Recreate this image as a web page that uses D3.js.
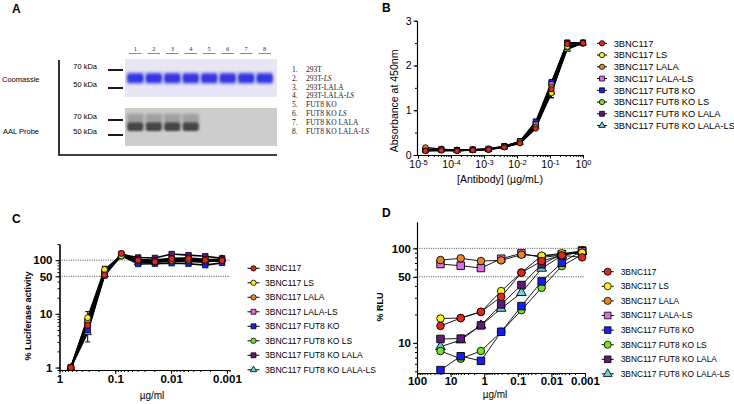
<!DOCTYPE html>
<html>
<head>
<meta charset="utf-8">
<title>3BNC117 Fc variants</title>
<script src="https://d3js.org/d3.v7.min.js"></script>
<style>
  body { margin: 0; background: #fff; }
  svg { font-family: "Liberation Sans", Arial, sans-serif; }
</style>
</head>
<body>
<div id="figure"></div>
<script>
// ---------------- data ----------------
let seriesNames = ['3BNC117', '3BNC117 LS', '3BNC117 LALA', '3BNC117 LALA-LS',
    '3BNC117 FUT8 KO', '3BNC117 FUT8 KO LS', '3BNC117 FUT8 KO LALA', '3BNC117 FUT8 KO LALA-LS'];

// panel A (gel)
let laneLabels = ['1', '2', '3', '4', '5', '6', '7', '8'];
let laneSamples = ['293T', '293T-LS', '293T-LALA', '293T-LALA-LS',
    'FUT8 KO', 'FUT8 KO LS', 'FUT8 KO LALA', 'FUT8 KO LALA-LS'];
let markerKDa = [70, 50];
let bandKDa = 59;
let coomassieSignal = [1, 1, 1, 1, 1, 1, 1, 1];
let aalSignal = [1, 1, 1, 1, 0, 0, 0, 0];

// panel B (ELISA)
let bConc = [1.69e-5, 5.08e-5, 1.52e-4, 4.57e-4, 1.37e-3, 4.12e-3, 1.23e-2, 3.70e-2, 0.111, 0.333, 1];
let bAbs = [
    [0.09, 0.10, 0.09, 0.11, 0.12, 0.17, 0.26, 0.59, 1.47, 2.48, 2.50],
    [0.10, 0.11, 0.10, 0.11, 0.13, 0.18, 0.28, 0.62, 1.38, 2.42, 2.50],
    [0.17, 0.13, 0.10, 0.11, 0.12, 0.18, 0.27, 0.63, 1.52, 2.47, 2.49],
    [0.12, 0.12, 0.11, 0.12, 0.14, 0.19, 0.30, 0.68, 1.58, 2.50, 2.51],
    [0.10, 0.11, 0.11, 0.12, 0.13, 0.19, 0.31, 0.75, 1.63, 2.51, 2.50],
    [0.11, 0.12, 0.10, 0.11, 0.12, 0.18, 0.27, 0.62, 1.42, 2.40, 2.49],
    [0.13, 0.13, 0.11, 0.12, 0.13, 0.20, 0.30, 0.70, 1.60, 2.51, 2.51],
    [0.11, 0.12, 0.10, 0.11, 0.12, 0.18, 0.28, 0.64, 1.40, 2.36, 2.50]
];
let bErr = [[1, 8, 0.10], [7, 8, 0.12], [4, 8, 0.05]];   // [series, point, sd]
let bTicksX = [1e-5, 1e-4, 1e-3, 1e-2, 1e-1, 1];
let bTicksY = [0, 1, 2, 3];

// panel C (luciferase)
let cConc = [0.625, 0.3125, 0.156, 0.078, 0.039, 0.0195, 0.00977, 0.00488, 0.00244, 0.00122];
let cLuc = [
    [1, 6.1, 53, 133, 100, 93, 106, 107, 100, 98],
    [1, 8.5, 67, 120, 98, 96, 100, 102, 98, 100],
    [1, 7.5, 58, 125, 97, 95, 100, 100, 96, 99],
    [1, 7.0, 56, 128, 103, 100, 108, 110, 104, 102],
    [1, 5.0, 52, 122, 85, 86, 88, 86, 81, 89],
    [1, 7.8, 60, 118, 95, 94, 97, 98, 95, 97],
    [1, 6.5, 55, 128, 112, 110, 130, 124, 118, 108],
    [1, 4.5, 54, 124, 90, 92, 96, 95, 92, 105]
];
let cErr = [[0, 3, 14], [1, 1, 2.5], [1, 2, 10], [7, 1, 1.5], [7, 9, 12]];
let cTicksX = [1, 0.1, 0.01, 0.001];
let cTicksY = [1, 10, 50, 100];
let cRefLines = [100, 50];

// panel D (% RLU)
let dConc = [20, 5, 1.25, 0.3125, 0.078, 0.0195, 0.00488, 0.00122];
let dRlu = [
    [15.1, 18.3, 21.3, 30.7, 55.2, 73.4, 84.3, 80.3],
    [18.1, 18.3, 21.3, 35.3, 55.5, 83.6, 88.5, 90],
    [75.2, 78.4, 73.4, 74.6, 85.7, 82.9, 86.4, 90],
    [68.2, 65.5, 61.9, 77.7, 88.5, 80, 85, 93],
    [5.15, 7.22, 6.45, 13.1, 24.5, 44.7, 70.5, 94.5],
    [8.2, 6.8, 8.2, 13.1, 22.2, 38.3, 65.0, 86],
    [11.0, 11.1, 15.3, 25.5, 40.9, 67.7, 87, 94.5],
    [9.1, 10.7, 15.3, 23.1, 33.9, 61.3, 84, 92]
];
let dTicksX = [100, 10, 1, 0.1, 0.01, 0.001];
let dTicksY = [10, 50, 100];
let dRefLines = [100, 50];

// ---------------- styles ----------------
let seriesColors = ['#e3261c', '#f7f21a', '#e5862a', '#df6ee3', '#1c1cf2', '#72e22a', '#5d1a78', '#69d4dc'];
let seriesShapes = ['circle', 'circle', 'circle', 'square', 'square', 'circle', 'square', 'triangle'];
let symbolTypes = { circle: d3.symbolCircle, square: d3.symbolSquare, triangle: d3.symbolTriangle };


let svg = d3.select('#figure')
    .append('svg')
        .attr('width', 734)
        .attr('height', 404);

let defs = svg.append('defs');
defs.append('filter').attr('id', 'blur').attr('x', '-20%').attr('y', '-50%').attr('width', '140%').attr('height', '200%')
    .append('feGaussianBlur').attr('stdDeviation', 0.8);
defs.append('filter').attr('id', 'blur2').attr('x', '-20%').attr('y', '-50%').attr('width', '140%').attr('height', '200%')
    .append('feGaussianBlur').attr('stdDeviation', 1.6);

// panel letters
[['A', 12, 13], ['B', 382, 12], ['C', 12, 223], ['D', 382, 217]].forEach((p) => {
    svg.append('text')
        .attr('x', p[1]).attr('y', p[2])
        .attr('font-size', 12).attr('font-weight', 'bold')
        .text(p[0]);
});


// ================= panel A =================
let gA = svg.append('g').attr('id', 'panelA');
let lane = d3.scaleBand().domain(laneLabels).range([127, 273]).paddingInner(0.1);
let yCoom = d3.scaleLog().domain([70, 50]).range([69, 87]);
let yAal = d3.scaleLog().domain([70, 50]).range([119, 134]);

gA.append('rect').attr('x', 125).attr('y', 59).attr('width', 152).attr('height', 38).attr('fill', '#e8e6f4');
gA.append('rect').attr('x', 125).attr('y', 108).attr('width', 152).attr('height', 38).attr('fill', '#cdcdcd');

// coomassie bands
let coomG = gA.append('g');
coomG.append('g').attr('filter', 'url(#blur2)').selectAll('rect')
    .data(coomassieSignal).enter().append('rect')
        .attr('x', (d, i) => lane(laneLabels[i]))
        .attr('y', yCoom(bandKDa) - 6)
        .attr('width', lane.bandwidth())
        .attr('height', 12)
        .attr('fill', '#8a8ae8')
        .attr('opacity', (d) => d);
coomG.append('g').attr('filter', 'url(#blur)').selectAll('rect')
    .data(coomassieSignal).enter().append('rect')
        .attr('x', (d, i) => lane(laneLabels[i]) + 0.5)
        .attr('y', yCoom(bandKDa) - 4)
        .attr('width', lane.bandwidth() - 1)
        .attr('height', 8)
        .attr('rx', 2.5)
        .attr('fill', '#3434e4')
        .attr('opacity', (d) => d);

// AAL bands
let aalG = gA.append('g');
aalG.append('g').attr('filter', 'url(#blur2)').selectAll('rect')
    .data(aalSignal).enter().append('rect')
        .attr('x', (d, i) => lane(laneLabels[i]))
        .attr('y', yAal(bandKDa) - 13)
        .attr('width', lane.bandwidth())
        .attr('height', 16)
        .attr('fill', '#8c8c8c')
        .attr('opacity', (d) => d * 0.7);
aalG.append('g').attr('filter', 'url(#blur)').selectAll('rect')
    .data(aalSignal).enter().append('rect')
        .attr('x', (d, i) => lane(laneLabels[i]) + 0.5)
        .attr('y', yAal(bandKDa) - 4)
        .attr('width', lane.bandwidth() - 1)
        .attr('height', 8.5)
        .attr('rx', 2)
        .attr('fill', '#454545')
        .attr('opacity', (d) => d);

// lane numbers
gA.selectAll('.laneNum').data(laneLabels).enter().append('text')
    .attr('class', 'laneNum')
    .attr('x', (d) => lane(d) + lane.bandwidth() / 2)
    .attr('y', 51)
    .attr('text-anchor', 'middle')
    .attr('font-family', '"Liberation Serif", serif')
    .attr('font-size', 6.5)
    .attr('fill', '#333')
    .text((d) => d);
gA.selectAll('.laneLine').data(laneLabels).enter().append('line')
    .attr('x1', (d) => lane(d) + 2).attr('x2', (d) => lane(d) + lane.bandwidth() - 2)
    .attr('y1', 53.5).attr('y2', 53.5)
    .attr('stroke', '#555').attr('stroke-width', 0.7);

// size markers
[yCoom, yAal].forEach((ys) => {
    gA.selectAll(null).data(markerKDa).enter().append('line')
        .attr('x1', 108).attr('x2', 123)
        .attr('y1', (d) => ys(d) + 1).attr('y2', (d) => ys(d) + 1)
        .attr('stroke', '#000').attr('stroke-width', 1.8);
    gA.selectAll(null).data(markerKDa).enter().append('text')
        .attr('x', 97).attr('y', (d) => ys(d) + 1)
        .attr('dy', '-0.1em')
        .attr('text-anchor', 'end')
        .attr('font-size', 7.5)
        .text((d) => d + ' kDa');
});

gA.append('text').attr('x', 2).attr('y', 82).attr('font-size', 7.5).text('Coomassie');
gA.append('text').attr('x', 3).attr('y', 134).attr('font-size', 7.5).text('AAL Probe');

// frame
gA.append('path')
    .attr('d', 'M59,60V155H277')
    .attr('fill', 'none').attr('stroke', '#000').attr('stroke-width', 1.6);

// sample key
let keyG = gA.append('g')
    .attr('font-family', '"Liberation Serif", serif')
    .attr('font-size', 7.5)
    .attr('fill', '#1a1a1a');
laneSamples.forEach((s, i) => {
    let yy = 72 + i * 8.8;
    keyG.append('text').attr('x', 292).attr('y', yy).attr('fill', '#1a1a1a').text(laneLabels[i] + '.');
    let t = keyG.append('text').attr('x', 306).attr('y', yy).attr('fill', '#1a1a1a');
    if (s.endsWith('LS')) {
        t.append('tspan').text(s.slice(0, -2));
        t.append('tspan').attr('font-style', 'italic').text('LS');
    } else {
        t.text(s);
    }
});


// ================= shared helpers =================
function drawSeries(g, x, y, conc, vals, opt) {
    let line = d3.line()
        .x((d, i) => x(conc[i]))
        .y((d) => y(d));

    g.append('g').selectAll('path')
        .data(vals).enter().append('path')
            .attr('d', (d) => line(d))
            .attr('fill', 'none')
            .attr('stroke', '#000')
            .attr('stroke-width', opt.lw);

    // error bars
    let eg = g.append('g').attr('stroke', '#000').attr('stroke-width', 1);
    (opt.err || []).forEach((e) => {
        let v = vals[e[0]][e[1]];
        let cx = x(conc[e[1]]);
        let lo = Math.max(v - e[2], y.domain()[0]);
        let hi = v + e[2];
        eg.append('line').attr('x1', cx).attr('x2', cx).attr('y1', y(lo)).attr('y2', y(hi));
        eg.append('line').attr('x1', cx - 2.5).attr('x2', cx + 2.5).attr('y1', y(lo)).attr('y2', y(lo));
        eg.append('line').attr('x1', cx - 2.5).attr('x2', cx + 2.5).attr('y1', y(hi)).attr('y2', y(hi));
    });

    // markers, first series drawn last so it sits on top
    d3.range(vals.length).reverse().forEach((s) => {
        g.append('g').selectAll('path')
            .data(vals[s]).enter().append('path')
                .attr('transform', (d, i) => translate(x(conc[i]), y(d)))
                .attr('d', d3.symbol().type(symbolTypes[seriesShapes[s]]).size(opt.size[seriesShapes[s]]))
                .attr('fill', seriesColors[s])
                .attr('stroke', '#000')
                .attr('stroke-width', opt.sw);
    });
}

function drawLegend(g, mx, y0, dy, opt) {
    seriesNames.forEach((name, i) => {
        let yy = y0 + i * dy;
        g.append('line')
            .attr('x1', mx - opt.half).attr('x2', mx + opt.half)
            .attr('y1', yy).attr('y2', yy)
            .attr('stroke', '#000').attr('stroke-width', 1);
        g.append('path')
            .attr('transform', translate(mx, yy))
            .attr('d', d3.symbol().type(symbolTypes[seriesShapes[i]]).size(opt.size[seriesShapes[i]]))
            .attr('fill', seriesColors[i])
            .attr('stroke', '#000')
            .attr('stroke-width', 0.8);
        g.append('text')
            .attr('x', mx + opt.tx).attr('y', yy)
            .attr('dy', '0.35em')
            .attr('font-size', opt.fs)
            .text(name);
    });
}

function styleAxis(sel, fs, weight) {
    sel.attr('font-size', fs)
        .attr('font-family', '"Liberation Sans", Arial, sans-serif')
        .attr('font-weight', weight);
    sel.selectAll('path, line').attr('stroke', '#000');
    sel.select('.domain').attr('stroke-width', 1.1);
    sel.selectAll('text').attr('fill', '#000');
}


// ================= panel B =================
let gB = svg.append('g').attr('id', 'panelB');
let xB = d3.scaleLog().domain([1e-5, 1]).range([418, 583]);
let yB = d3.scaleLinear().domain([0, 3]).range([155, 20.7]);

gB.append('g')
    .attr('transform', translate(0, 155))
    .call(d3.axisBottom(xB).tickValues(xB.ticks()).tickFormat('').tickSize(2).tickSizeOuter(0))
    .call(styleAxis, 10.5, 'normal');
let bxAxis = gB.append('g')
    .attr('transform', translate(0, 155))
    .call(d3.axisBottom(xB).tickValues(bTicksX).tickFormat('').tickSize(3.5).tickPadding(2).tickSizeOuter(0))
    .call(styleAxis, 10.5, 'normal');
bxAxis.select('.domain').attr('d', 'M417,0.5H583');
bxAxis.selectAll('.tick text').each(function (d) {
    let t = d3.select(this);
    t.append('tspan').text('10');
    t.append('tspan').attr('dy', '-0.45em').attr('font-size', 7.5).text(Math.round(Math.log10(d)));
});
gB.append('g')
    .attr('transform', translate(417, 0))
    .call(d3.axisLeft(yB).tickValues(yB.ticks(6)).tickFormat('').tickSize(2).tickSizeOuter(0))
    .call(styleAxis, 10.5, 'normal');
gB.append('g')
    .attr('transform', translate(417, 0))
    .call(d3.axisLeft(yB).tickValues(bTicksY).tickFormat(d3.format('d')).tickSize(3.5).tickPadding(2).tickSizeOuter(0))
    .call(styleAxis, 10.5, 'normal');

drawSeries(gB.append('g'), xB, yB, bConc, bAbs, {
    lw: 1.3, sw: 0.8, err: bErr,
    size: { circle: 22, square: 26, triangle: 20 }
});

gB.append('text')
    .attr('transform', translate(398, 101) + ' rotate(-90)')
    .attr('text-anchor', 'middle')
    .attr('font-size', 10.5)
    .text('Absorbance at 450nm');
gB.append('text')
    .attr('x', 500).attr('y', 183)
    .attr('text-anchor', 'middle')
    .attr('font-size', 10.5)
    .text('[Antibody] (µg/mL)');

drawLegend(gB.append('g'), 602, 43.3, 11.75, {
    half: 5, tx: 11.7, fs: 9.3,
    size: { circle: 22, square: 24, triangle: 18 }
});


// ================= panel C =================
let gC = svg.append('g').attr('id', 'panelC');
let xC = d3.scaleLog().domain([1, 0.00088]).range([59.5, 230]);
let yC = d3.scaleLog().domain([0.9, 200]).range([370, 244]);

gC.selectAll('.ref').data(cRefLines).enter().append('line')
    .attr('x1', 59.5).attr('x2', 230)
    .attr('y1', (d) => yC(d)).attr('y2', (d) => yC(d))
    .attr('stroke', '#222').attr('stroke-width', 0.8)
    .attr('stroke-dasharray', '1,1.3');

gC.append('g')
    .attr('transform', translate(0, 370))
    .call(d3.axisBottom(xC).tickValues(xC.ticks()).tickFormat('').tickSize(2).tickSizeOuter(0))
    .call(styleAxis, 11.5, 'bold');
gC.append('g')
    .attr('transform', translate(0, 370))
    .call(d3.axisBottom(xC).tickValues(cTicksX).tickFormat((d) => String(d)).tickSize(4).tickPadding(1).tickSizeOuter(0))
    .call(styleAxis, 11.5, 'bold');
gC.append('g')
    .attr('transform', translate(59.5, 0))
    .call(d3.axisLeft(yC).tickValues(yC.ticks()).tickFormat('').tickSize(2).tickSizeOuter(0))
    .call(styleAxis, 11.5, 'bold');
gC.append('g')
    .attr('transform', translate(59.5, 0))
    .call(d3.axisLeft(yC).tickValues(cTicksY).tickFormat((d) => String(d)).tickSize(4).tickPadding(3).tickSizeOuter(0))
    .call(styleAxis, 11.5, 'bold');

drawSeries(gC.append('g'), xC, yC, cConc, cLuc, {
    lw: 1.6, sw: 0.8, err: cErr,
    size: { circle: 28, square: 30, triangle: 24 }
});

gC.append('text')
    .attr('transform', translate(31, 316) + ' rotate(-90)')
    .attr('text-anchor', 'middle')
    .attr('font-size', 9).attr('font-weight', 'bold')
    .text('% Luciferase activity');
gC.append('text')
    .attr('x', 152).attr('y', 399)
    .attr('text-anchor', 'middle')
    .attr('font-size', 10)
    .text('µg/ml');

drawLegend(gC.append('g'), 253.5, 268.3, 14.5, {
    half: 6, tx: 11.5, fs: 8.5,
    size: { circle: 22, square: 24, triangle: 18 }
});


// ================= panel D =================
let gD = svg.append('g').attr('id', 'panelD');
let xD = d3.scaleLog().domain([100, 0.001]).range([417, 585]);
let yD = d3.scaleLog().domain([4.8, 190]).range([373, 222]);

gD.selectAll('.ref').data(dRefLines).enter().append('line')
    .attr('x1', 417).attr('x2', 585)
    .attr('y1', (d) => yD(d)).attr('y2', (d) => yD(d))
    .attr('stroke', '#222').attr('stroke-width', 0.8)
    .attr('stroke-dasharray', '1,1.3');

gD.append('g')
    .attr('transform', translate(0, 373))
    .call(d3.axisBottom(xD).tickValues(xD.ticks()).tickFormat('').tickSize(2).tickSizeOuter(0))
    .call(styleAxis, 11.5, 'bold');
gD.append('g')
    .attr('transform', translate(0, 373))
    .call(d3.axisBottom(xD).tickValues(dTicksX).tickFormat((d) => String(d)).tickSize(4).tickPadding(0).tickSizeOuter(0))
    .call(styleAxis, 11.5, 'bold');
gD.append('g')
    .attr('transform', translate(417, 0))
    .call(d3.axisLeft(yD).tickValues(yD.ticks()).tickFormat('').tickSize(2).tickSizeOuter(0))
    .call(styleAxis, 11.5, 'bold');
gD.append('g')
    .attr('transform', translate(417, 0))
    .call(d3.axisLeft(yD).tickValues(dTicksY).tickFormat((d) => String(d)).tickSize(4).tickPadding(2).tickSizeOuter(0))
    .call(styleAxis, 11.5, 'bold');

drawSeries(gD.append('g'), xD, yD, dConc, dRlu, {
    lw: 0.9, sw: 0.9,
    size: { circle: 45, square: 56, triangle: 40 }
});

gD.append('text')
    .attr('transform', translate(383, 307) + ' rotate(-90)')
    .attr('text-anchor', 'middle')
    .attr('font-size', 9).attr('font-weight', 'bold')
    .text('% RLU');
gD.append('text')
    .attr('x', 495).attr('y', 398)
    .attr('text-anchor', 'middle')
    .attr('font-size', 10)
    .text('µg/ml');

drawLegend(gD.append('g'), 607.7, 271.7, 14.6, {
    half: 6, tx: 13, fs: 8.4,
    size: { circle: 40, square: 44, triangle: 34 }
});


// helper method to make translating easier
function translate(x, y) {
    return 'translate(' + x + ',' + y + ')';
}
</script>
</body>
</html>
